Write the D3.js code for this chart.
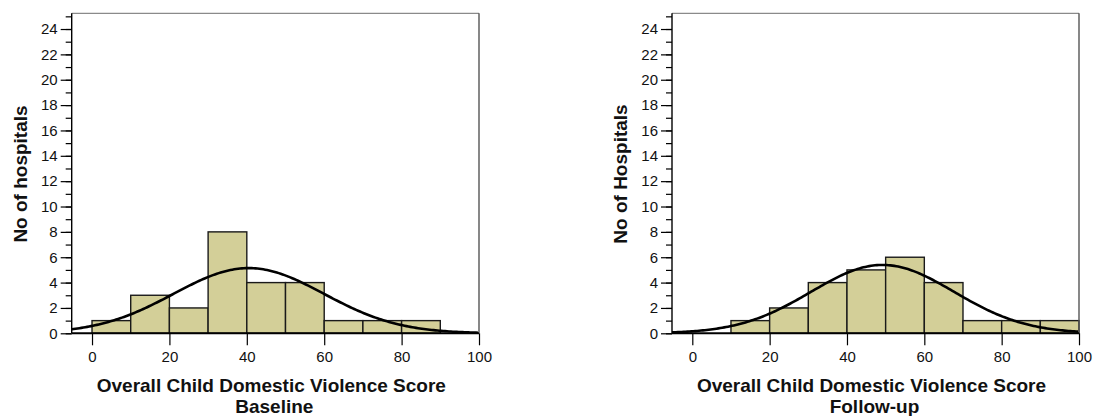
<!DOCTYPE html>
<html>
<head>
<meta charset="utf-8">
<script src="https://cdn.jsdelivr.net/npm/d3@7/dist/d3.min.js"></script>
<style>
  html, body { margin: 0; padding: 0; background: #fff; }
  svg { display: block; font-family: "Liberation Sans", Arial, sans-serif; }
</style>
</head>
<body>
<svg id="chart" width="1094" height="416"></svg>
<script>
// ---- data ----
const binStarts = [0, 10, 20, 30, 40, 50, 60, 70, 80, 90];
const binWidth = 10;
const baselineCounts = [1, 3, 2, 8, 4, 4, 1, 1, 1, 0];
const followupCounts = [0, 1, 2, 4, 5, 6, 4, 1, 1, 1];
const fitMean = [40.5, 49.2];
const fitSD = [19.4, 18.5];
const xTicks = [0, 20, 40, 60, 80, 100];
const yMajorTicks = [0, 2, 4, 6, 8, 10, 12, 14, 16, 18, 20, 22, 24];
const yMinorTicks = d3.range(0, 26, 1);
const xTitle = "Overall Child Domestic Violence Score";
const subTitles = ["Baseline", "Follow-up"];
const yTitles = ["No of hospitals", "No of Hospitals"];

const svg = d3.select("#chart");
const panels = [
  { left: 71.7, right: 479, counts: baselineCounts },
  { left: 672, right: 1079, counts: followupCounts }
];
const plotTop = 13.3, plotBottom = 333.3;
const fill = "#d3cf98";
const FONT = "Liberation Sans, Arial, sans-serif";

panels.forEach((p, i) => {
  const x = d3.scaleLinear().domain([-5.25, 100]).range([p.left, p.right]);
  const y = d3.scaleLinear().domain([0, 25.24]).range([plotBottom, plotTop]);
  const g = svg.append("g");

  // bars
  const bars = binStarts.map((s, k) => ({ s, c: p.counts[k] })).filter(d => d.c > 0);
  g.selectAll("rect.bar").data(bars).enter().append("rect")
    .attr("x", d => x(d.s)).attr("width", d => x(d.s + binWidth) - x(d.s))
    .attr("y", d => y(d.c)).attr("height", d => y(0) - y(d.c))
    .attr("fill", fill).attr("stroke", "#1a1a1a").attr("stroke-width", 1.4);

  // normal curve
  const n = d3.sum(p.counts);
  const m = fitMean[i], sd = fitSD[i];
  const pts = d3.range(-5.25, 100.01, 0.5).map(v =>
    [v, n * binWidth * Math.exp(-((v - m) ** 2) / (2 * sd * sd)) / (sd * Math.sqrt(2 * Math.PI))]);
  g.append("path").datum(pts)
    .attr("d", d3.line().x(d => x(d[0])).y(d => y(d[1])))
    .attr("fill", "none").attr("stroke", "#000").attr("stroke-width", 2.6);

  // frame top/right
  g.append("line").attr("x1", p.left).attr("x2", p.right).attr("y1", plotTop).attr("y2", plotTop)
    .attr("stroke", "#8a8a8a").attr("stroke-width", 1.2);
  g.append("line").attr("x1", p.right).attr("x2", p.right).attr("y1", plotTop).attr("y2", plotBottom)
    .attr("stroke", "#555").attr("stroke-width", 1.4);

  // y axis minor
  const yMinor = d3.axisLeft(y).tickValues(yMinorTicks).tickSize(6).tickFormat("");
  g.append("g").attr("transform", `translate(${p.left},0)`).call(yMinor)
    .call(a => a.select(".domain").remove())
    .call(a => a.selectAll("line").attr("stroke", "#000").attr("stroke-width", 1.2));
  // y axis major
  const yMajor = d3.axisLeft(y).tickValues(yMajorTicks).tickSize(11).tickSizeOuter(0).tickPadding(3);
  g.append("g").attr("transform", `translate(${p.left},0)`).call(yMajor)
    .call(a => a.select(".domain").attr("d", `M0,${plotTop}V${plotBottom}`).attr("stroke", "#000").attr("stroke-width", 1.4))
    .call(a => a.selectAll("line").attr("stroke", "#000").attr("stroke-width", 1.2))
    .call(a => a.selectAll("text").attr("font-size", 15).attr("fill", "#111").attr("font-family", FONT));

  // x axis
  const xAxis = d3.axisBottom(x).tickValues(xTicks).tickSize(12).tickSizeOuter(0).tickPadding(6);
  g.append("g").attr("transform", `translate(0,${plotBottom})`).call(xAxis)
    .call(a => a.select(".domain").attr("d", `M${p.left},0H${p.right}`).attr("stroke", "#000").attr("stroke-width", 2))
    .call(a => a.selectAll("line").attr("stroke", "#000").attr("stroke-width", 1.2))
    .call(a => a.selectAll("text").attr("font-size", 15).attr("fill", "#111").attr("font-family", FONT));

  // titles
  const cx = (p.left + p.right) / 2 - 4;
  g.append("text").attr("x", cx).attr("y", 392).attr("text-anchor", "middle")
    .attr("font-size", 19).attr("font-weight", "bold").attr("fill", "#111").text(xTitle);
  g.append("text").attr("x", cx + 3).attr("y", 413).attr("text-anchor", "middle")
    .attr("font-size", 19).attr("font-weight", "bold").attr("fill", "#111").text(subTitles[i]);
  g.append("text").attr("transform", `translate(${p.left - 45},174) rotate(-90)`)
    .attr("text-anchor", "middle").attr("font-size", 19).attr("font-weight", "bold")
    .attr("fill", "#111").text(yTitles[i]);
});
</script>
</body>
</html>
